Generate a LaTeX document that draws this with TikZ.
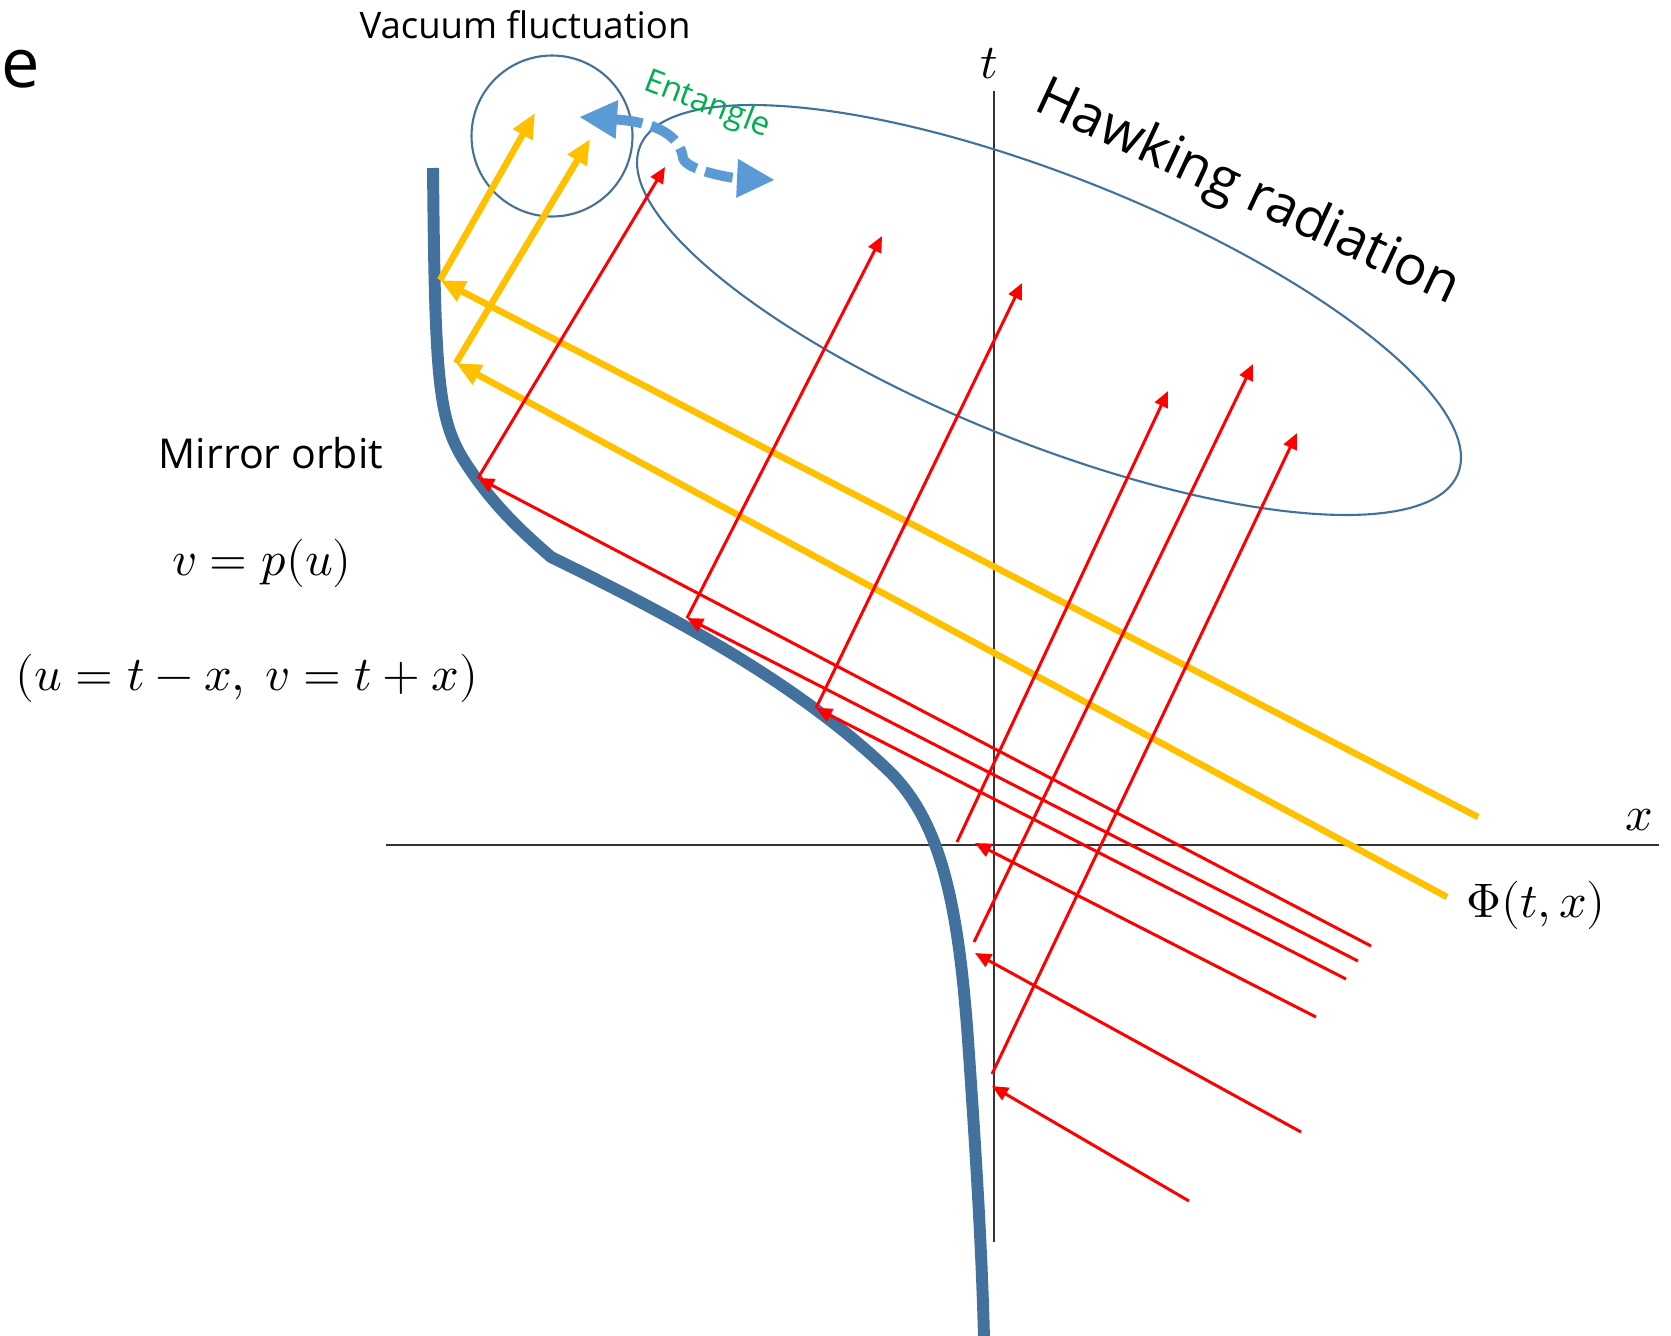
\documentclass[tikz,border=0pt]{standalone}
\usepackage{fontspec}
\usepackage{unicode-math}
\setmainfont{Open Sans}
\setmathfont{Latin Modern Math}
\usetikzlibrary{arrows.meta,shapes.geometric}
\definecolor{mirrorblue}{HTML}{41719C}
\definecolor{rayred}{HTML}{FF0000}
\definecolor{fieldgold}{HTML}{FFC000}
\definecolor{entblue}{HTML}{5B9BD5}
\definecolor{entgreen}{HTML}{00B050}
\tikzset{
    every picture/.style={line join=round},
    mirror/.style={draw=mirrorblue,line width=3.4pt},
    outline/.style={draw=mirrorblue,line width=0.6pt,inner sep=0pt},
    axisline/.style={draw=black!80,line width=0.45pt},
    ray/.style={draw=rayred,line width=0.85pt,
      -{Triangle[length=1.6mm,width=1.4mm]}},
    field/.style={draw=fieldgold,line width=1.85pt,
      -{Triangle[length=2.5mm,width=2.1mm]}},
    entangle/.style={draw=entblue,line width=2.85pt,dash pattern=on 8pt off 2.6pt,
      {Triangle[length=3.8mm,width=3.6mm]}-{Triangle[length=3.8mm,width=3.6mm]}},
    tag/.style={inner sep=0pt,anchor=base},
    mathtag/.style={tag,font=\fontsize{13.8}{16}\selectfont}
}
\begin{document}
\begin{tikzpicture}[x=0.1mm,y=-0.1mm]
  \useasboundingbox (0,0) rectangle (1671,1335);
  % axes
  \coordinate (tb) at (994,1242);
  \coordinate (tt) at (994,91);
  \coordinate (xl) at (386,845);
  \coordinate (xr) at (1659,845);
  \draw[axisline] (xl) -- (xr);
  \draw[axisline] (tb) -- (tt);
  \node[mathtag] (tlab) at (989,78) {$t$};
  \node[mathtag] (xlab) at (1639,830) {$x$};
  % regions
  \node[outline,circle,minimum size=16.1mm] (vac) at (552,136) {};
  \node[outline,ellipse,minimum width=88.1mm,minimum height=26.6mm,
    rotate=-21.8] (hawk) at (1049,310) {};
  % mirror orbit
  \draw[mirror] (433,168) .. controls (435,380) and (438,420) .. (465,462)
    .. controls (492,504) and (520,530) .. (551,557)
    .. controls (680,620) and (800,685) .. (890,772)
    .. controls (940,822) and (958,900) .. (968,1040)
    .. controls (975,1140) and (982,1250) .. (984,1340);
  % field lines
  \foreach \n/\sx/\sy/\mx/\my/\ex/\ey in {1/1478/817/440/280/535/113,
    2/1447/897/456/363/590/139} {
    \coordinate (fs\n) at (\sx,\sy);
    \coordinate (fm\n) at (\mx,\my);
    \coordinate (fe\n) at (\ex,\ey);
    \draw[field] (fs\n) -- (fm\n);
    \draw[field] (fm\n) -- (fe\n);
  }
  % rays
  \foreach \n/\sx/\sy/\mx/\my/\ox/\oy/\ex/\ey in {
    1/1371/946/478/478/478/478/665/167,
    2/1358/961/687/618/687/618/882/236,
    3/1346/979/816/708/816/708/1022/283,
    4/1316/1017/975/843/957/842/1168/391,
    5/1301/1132/975/953/974/942/1253/364,
    6/1189/1201/992/1086/992/1074/1297/433} {
    \coordinate (rs\n) at (\sx,\sy);
    \coordinate (rm\n) at (\mx,\my);
    \coordinate (ro\n) at (\ox,\oy);
    \coordinate (re\n) at (\ex,\ey);
    \draw[ray] (rs\n) -- (rm\n);
    \draw[ray] (ro\n) -- (re\n);
  }
  % entanglement
  \coordinate (ea) at (579,117);
  \coordinate (em) at (683,158);
  \coordinate (eb) at (775,180);
  \draw[entangle] (ea) .. controls (655,122) and (680,135) .. (em)
    .. controls (686,170) and (730,178) .. (eb);
  % labels
  \node[tag,font=\fontsize{19.5}{22}\selectfont] (panel) at (21,87) {e};
  \node[tag,font=\fontsize{10.4}{12}\selectfont] (vaclab) at (525,38) {Vacuum fluctuation};
  \node[tag,text=entgreen,font=\fontsize{9.3}{11}\selectfont,rotate=-21] (entlab)
    at (704,113) {Entangle};
  \node[tag,font=\fontsize{15.5}{18}\selectfont,rotate=-25] (hawklab)
    at (1241,207) {Hawking radiation};
  \node[tag,font=\fontsize{11.7}{14}\selectfont] (mirlab) at (271,468) {Mirror orbit};
  \node[mathtag] (orbit) at (262,575) {$v=p(u)$};
  \node[mathtag] (lc) at (247,690) {$(u=t-x,\ v=t+x)$};
  \node[mathtag] (phi) at (1536,917) {$\Phi(t,x)$};
\end{tikzpicture}
\end{document}
